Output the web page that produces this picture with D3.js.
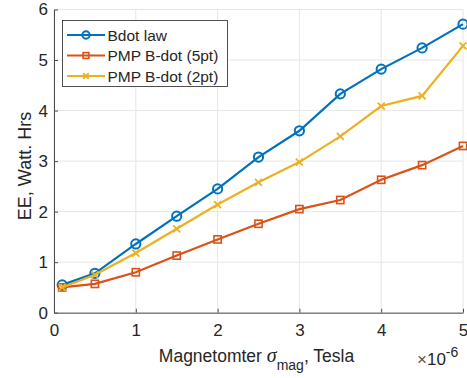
<!DOCTYPE html>
<html>
<head>
<meta charset="utf-8">
<script src="https://cdn.jsdelivr.net/npm/d3@7"></script>
<style>
  body { margin: 0; background: #fff; }
  text { font-family: 'Liberation Sans', Arial, sans-serif; fill: #262626; }
</style>
</head>
<body>
<div id="chart"></div>
<script>
// 磁力計ノイズ vs EE
var sigmaMag = [0.1, 0.5, 1, 1.5, 2, 2.5, 3, 3.5, 4, 4.5, 5]
var bdotLaw = [0.55, 0.78, 1.36, 1.91, 2.45, 3.08, 3.60, 4.33, 4.82, 5.24, 5.71]
var pmp5pt = [0.50, 0.57, 0.80, 1.13, 1.45, 1.76, 2.05, 2.23, 2.63, 2.92, 3.30]
var pmp2pt = [0.50, 0.75, 1.18, 1.66, 2.14, 2.58, 2.98, 3.49, 4.09, 4.29, 5.28]
var xTicks = [0, 1, 2, 3, 4, 5]
var yTicks = [0, 1, 2, 3, 4, 5, 6]
var seriesNames = ['Bdot law', 'PMP B-dot (5pt)', 'PMP B-dot (2pt)']

var width = 467, height = 378
// window.top と衝突しないように名前を変える
var plotL = 54, plotR = 463, plotT = 9.5, plotB = 312.7

var svg = d3.select('#chart').append('svg')
  .attr('width', width)
  .attr('height', height)

var x = d3.scaleLinear().domain([0, 5]).range([plotL, plotR])
var y = d3.scaleLinear().domain([0, 6]).range([plotB, plotT])

// grid
svg.append('g').selectAll('line')
  .data(xTicks).enter().append('line')
  .attr('x1', function(d) { return x(d) }).attr('x2', function(d) { return x(d) })
  .attr('y1', plotT).attr('y2', plotB)
  .attr('stroke', '#e6e6e6').attr('stroke-width', 1)
svg.append('g').selectAll('line')
  .data(yTicks).enter().append('line')
  .attr('y1', function(d) { return y(d) }).attr('y2', function(d) { return y(d) })
  .attr('x1', plotL).attr('x2', plotR)
  .attr('stroke', '#e6e6e6').attr('stroke-width', 1)

// axes (MATLAB風: 内向きの目盛り)
var xAxis = svg.append('g')
  .attr('transform', 'translate(0,' + plotB + ')')
  .call(d3.axisBottom(x).tickValues(xTicks).tickFormat(d3.format('d'))
    .tickSizeInner(-4).tickSizeOuter(0).tickPadding(11))
var yAxis = svg.append('g')
  .attr('transform', 'translate(' + plotL + ',0)')
  .call(d3.axisLeft(y).tickValues(yTicks).tickFormat(d3.format('d'))
    .tickSizeInner(-4).tickSizeOuter(0).tickPadding(6))

;[xAxis, yAxis].forEach(function(a) {
  a.select('.domain').attr('stroke', '#4d4d4d').attr('stroke-width', 1)
  a.selectAll('.tick line').attr('stroke', '#4d4d4d')
  a.selectAll('.tick text')
    .style('font-family', "'Liberation Sans', Arial, sans-serif")
    .style('font-size', '17px')
    .attr('fill', '#262626')
})

// lines
var colors = ['#0072BD', '#D95319', '#EDB120']
var allSeries = [bdotLaw, pmp5pt, pmp2pt]
var line = d3.line()
  .x(function(d, i) { return x(sigmaMag[i]) })
  .y(function(d) { return y(d) })

function drawMarker(g, k, cx, cy, sc) {
  sc = sc || 1
  if (k === 0) {
    g.append('circle').attr('cx', cx).attr('cy', cy).attr('r', 4.6 * sc)
      .attr('fill', 'none').attr('stroke', colors[k]).attr('stroke-width', 2)
  } else if (k === 1) {
    var h = 3.6 * sc
    g.append('rect').attr('x', cx - h).attr('y', cy - h).attr('width', 2 * h).attr('height', 2 * h)
      .attr('fill', 'none').attr('stroke', colors[k]).attr('stroke-width', 1.6)
  } else {
    var c = 3.5 * sc
    g.append('path')
      .attr('d', 'M' + (cx - c) + ',' + (cy - c) + 'L' + (cx + c) + ',' + (cy + c) +
        'M' + (cx - c) + ',' + (cy + c) + 'L' + (cx + c) + ',' + (cy - c))
      .attr('stroke', colors[k]).attr('stroke-width', 1.8)
  }
}

allSeries.forEach(function(s, k) {
  var g = svg.append('g')
  g.append('path')
    .datum(s)
    .attr('d', line)
    .attr('fill', 'none')
    .attr('stroke', colors[k])
    .attr('stroke-width', 2.2)
  s.forEach(function(v, i) { drawMarker(g, k, x(sigmaMag[i]), y(v)) })
})

// legend
var lg = svg.append('g')
lg.append('rect')
  .attr('x', 62.5).attr('y', 20.5).attr('width', 165).attr('height', 66)
  .attr('fill', '#fff').attr('stroke', '#262626').attr('stroke-width', 0.8)
seriesNames.forEach(function(name, k) {
  var ly = 35 + k * 20.5
  lg.append('line').attr('x1', 67).attr('x2', 105).attr('y1', ly).attr('y2', ly)
    .attr('stroke', colors[k]).attr('stroke-width', 2.2)
  drawMarker(lg, k, 86, ly, 0.8)
  lg.append('text').attr('x', 107.5).attr('y', ly + 5.5)
    .style('font-size', '15.5px').text(name)
})

// axis labels
svg.append('text')
  .attr('transform', 'translate(31,166) rotate(-90)')
  .attr('text-anchor', 'middle')
  .style('font-size', '18px')
  .text('EE, Watt. Hrs')

var xl = svg.append('text')
  .attr('x', 256.5).attr('y', 361.5)
  .attr('text-anchor', 'middle')
  .style('font-size', '17.5px')
xl.append('tspan').text('Magnetomter ')
xl.append('tspan').style('font-family', "'Liberation Serif', 'Times New Roman', serif").style('font-style', 'italic').style('font-size', '20px').text('σ')
xl.append('tspan').attr('dy', 8).style('font-size', '14px').text('mag')
xl.append('tspan').attr('dy', -8).text(', Tesla')

var ex = svg.append('text')
  .attr('x', 417).attr('y', 365)
  .style('font-size', '17px')
ex.append('tspan').style('fill', '#555').text('×')
ex.append('tspan').text('10')
ex.append('tspan').attr('dy', -8).style('font-size', '14px').text('-6')
</script>
</body>
</html>
